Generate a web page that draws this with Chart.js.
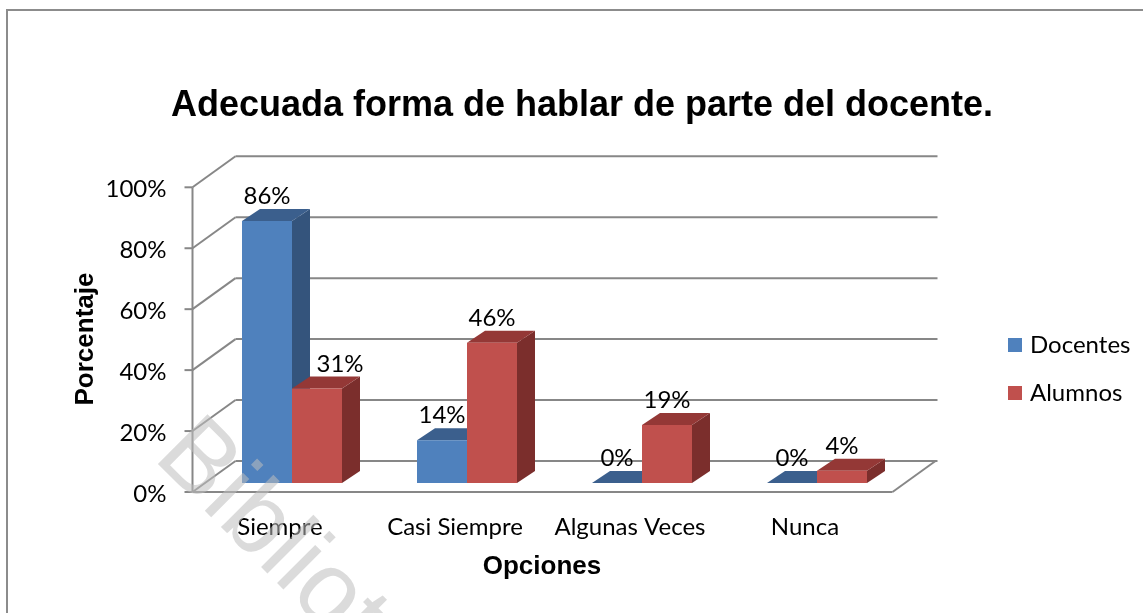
<!DOCTYPE html>
<html>
<head>
<meta charset="utf-8">
<script src="https://cdn.jsdelivr.net/npm/chart.js@4.4.1/dist/chart.umd.min.js"></script>
<style>
  html, body { margin: 0; padding: 0; background: #fff; }
  #wrap { width: 1143px; height: 613px; }
</style>
</head>
<body>
<div id="wrap"><canvas id="myChart" width="1143" height="613"></canvas></div>
<script>
// datos del grafico
const categorias = ['Siempre', 'Casi Siempre', 'Algunas Veces', 'Nunca'];
const docentes = [86, 14, 0, 0];
const alumnos = [31, 46, 19, 4];
const ticksY = [0, 20, 40, 60, 80, 100];
const titulo = 'Adecuada forma de hablar de parte del docente.';
const tituloY = 'Porcentaje';
const tituloX = 'Opciones';
const marca = 'Biblioteca';

// colores: frente, arriba, lado
const azul = ['#4f81bd', '#3b5f8d', '#34547c'];
const rojo = ['#c0504d', '#943836', '#7b2e2c'];

// desplazamientos 3D respecto al plano de las barras
const frente = { x: -12, y: 9 };
const fondo = { x: 31, y: -22 };
const prof = { x: 18, y: -12 };

const fuente = 'Lato, "Open Sans", sans-serif';
const gris = '#878787';

function linea(ctx, x1, y1, x2, y2) {
    ctx.beginPath();
    ctx.moveTo(x1, y1);
    ctx.lineTo(x2, y2);
    ctx.stroke();
}

// paredes, rejilla, textos
const paredes = {
    id: 'paredes',
    beforeDatasetsDraw(chart) {
        const ctx = chart.ctx;
        const y = chart.scales.y;
        const area = chart.chartArea;
        ctx.save();

        // marco
        ctx.strokeStyle = '#8c8c8c';
        ctx.lineWidth = 2;
        ctx.beginPath();
        ctx.moveTo(7, 620);
        ctx.lineTo(7, 10);
        ctx.lineTo(1150, 10);
        ctx.stroke();

        ctx.strokeStyle = gris;
        ctx.lineWidth = 2;
        const xf = area.left + frente.x;
        const xb = area.left + fondo.x;
        ticksY.forEach(function (t) {
            const py = y.getPixelForValue(t);
            linea(ctx, xf, py + frente.y, xb, py + fondo.y);
            linea(ctx, xb, py + fondo.y, area.right + fondo.x + 2, py + fondo.y);
            linea(ctx, xf - 8, py + frente.y, xf, py + frente.y);
        });
        // eje frontal y piso
        const y0 = y.getPixelForValue(0);
        linea(ctx, xf, y.getPixelForValue(100) + frente.y, xf, y0 + frente.y);
        linea(ctx, xf, y0 + frente.y, area.right + frente.x, y0 + frente.y);
        linea(ctx, area.right + frente.x, y0 + frente.y, area.right + fondo.x, y0 + fondo.y);

        // etiquetas eje y
        ctx.fillStyle = '#000';
        ctx.font = '24px ' + fuente;
        ctx.textAlign = 'right';
        ctx.textBaseline = 'middle';
        ticksY.forEach(function (t) {
            ctx.fillText(t + '%', xf - 26, y.getPixelForValue(t) + frente.y + 2);
        });

        // etiquetas categorias
        const x = chart.scales.x;
        ctx.textAlign = 'center';
        categorias.forEach(function (c, i) {
            ctx.fillText(c, x.getPixelForValue(i) + frente.x, 527);
        });

        // titulos de ejes
        ctx.font = 'bold 26px "Liberation Sans", Arial, sans-serif';
        ctx.fillText(tituloX, 542, 567);
        ctx.save();
        ctx.translate(86, 339);
        ctx.rotate(-Math.PI / 2);
        ctx.fillText(tituloY, 0, 0);
        ctx.restore();

        // titulo
        ctx.font = 'bold 36px "Liberation Sans", Arial, sans-serif';
        ctx.textBaseline = 'alphabetic';
        ctx.fillText(titulo, 582, 116, 822);

        // leyenda
        ctx.font = '24px ' + fuente;
        ctx.textAlign = 'left';
        ctx.textBaseline = 'middle';
        chart.data.datasets.forEach(function (ds, i) {
            const ly = 345 + i * 48;
            ctx.fillStyle = ds.backgroundColor;
            ctx.fillRect(1008, ly - 7, 14, 14);
            ctx.fillStyle = '#000';
            ctx.fillText(ds.label, 1030, ly);
        });

        // caras superiores y laterales
        const colores = [azul, rojo];
        chart.data.datasets.forEach(function (ds, i) {
            chart.getDatasetMeta(i).data.forEach(function (bar) {
                const l = bar.x - bar.width / 2;
                const r = bar.x + bar.width / 2;
                const t = bar.y;
                const b = bar.base;
                ctx.fillStyle = colores[i][2];
                ctx.beginPath();
                ctx.moveTo(r, b);
                ctx.lineTo(r + prof.x, b + prof.y);
                ctx.lineTo(r + prof.x, t + prof.y);
                ctx.lineTo(r, t);
                ctx.closePath();
                ctx.fill();
                ctx.fillStyle = colores[i][1];
                ctx.beginPath();
                ctx.moveTo(l, t);
                ctx.lineTo(r, t);
                ctx.lineTo(r + prof.x, t + prof.y);
                ctx.lineTo(l + prof.x, t + prof.y);
                ctx.closePath();
                ctx.fill();
            });
        });
        ctx.restore();
    },
    afterDatasetsDraw(chart) {
        const ctx = chart.ctx;
        ctx.save();
        ctx.fillStyle = '#000';
        ctx.font = '24px ' + fuente;
        ctx.textAlign = 'center';
        ctx.textBaseline = 'alphabetic';
        chart.data.datasets.forEach(function (ds, i) {
            chart.getDatasetMeta(i).data.forEach(function (bar, j) {
                let lx = bar.x;
                // si la barra anterior es mas alta, la etiqueta se corre a la derecha
                if (i > 0) {
                    const prev = chart.getDatasetMeta(i - 1).data[j];
                    if (prev.y < bar.y - 30) lx += prof.x + 5;
                }
                ctx.fillText(ds.data[j] + '%', lx, bar.y - 17);
            });
        });

        // marca de agua
        ctx.translate(152, 458);
        ctx.rotate(45 * Math.PI / 180);
        ctx.font = '102px "Liberation Sans", Arial, sans-serif';
        ctx.fillStyle = 'rgba(190,190,190,0.55)';
        ctx.textBaseline = 'alphabetic';
        ctx.textAlign = 'left';
        ctx.fillText(marca, 0, 0);
        ctx.restore();
    }
};

const ctx = document.getElementById('myChart');
let chart1 = new Chart(ctx, {
    type: 'bar',
    data: {
        labels: categorias,
        datasets: [{
            label: 'Docentes',
            data: docentes,
            backgroundColor: azul[0]
        }, {
            label: 'Alumnos',
            data: alumnos,
            backgroundColor: rojo[0]
        }]
    },
    options: {
        responsive: false,
        animation: false,
        layout: {
            padding: { left: 204.5, right: 238.5, top: 178.3, bottom: 130 }
        },
        datasets: {
            bar: {
                categoryPercentage: 0.5714,
                barPercentage: 1,
                borderWidth: 0
            }
        },
        scales: {
            x: { display: false },
            y: { display: false, min: 0, max: 100 }
        },
        plugins: {
            legend: { display: false },
            title: { display: false },
            tooltip: { enabled: false }
        }
    },
    plugins: [paredes]
});
</script>
</body>
</html>
